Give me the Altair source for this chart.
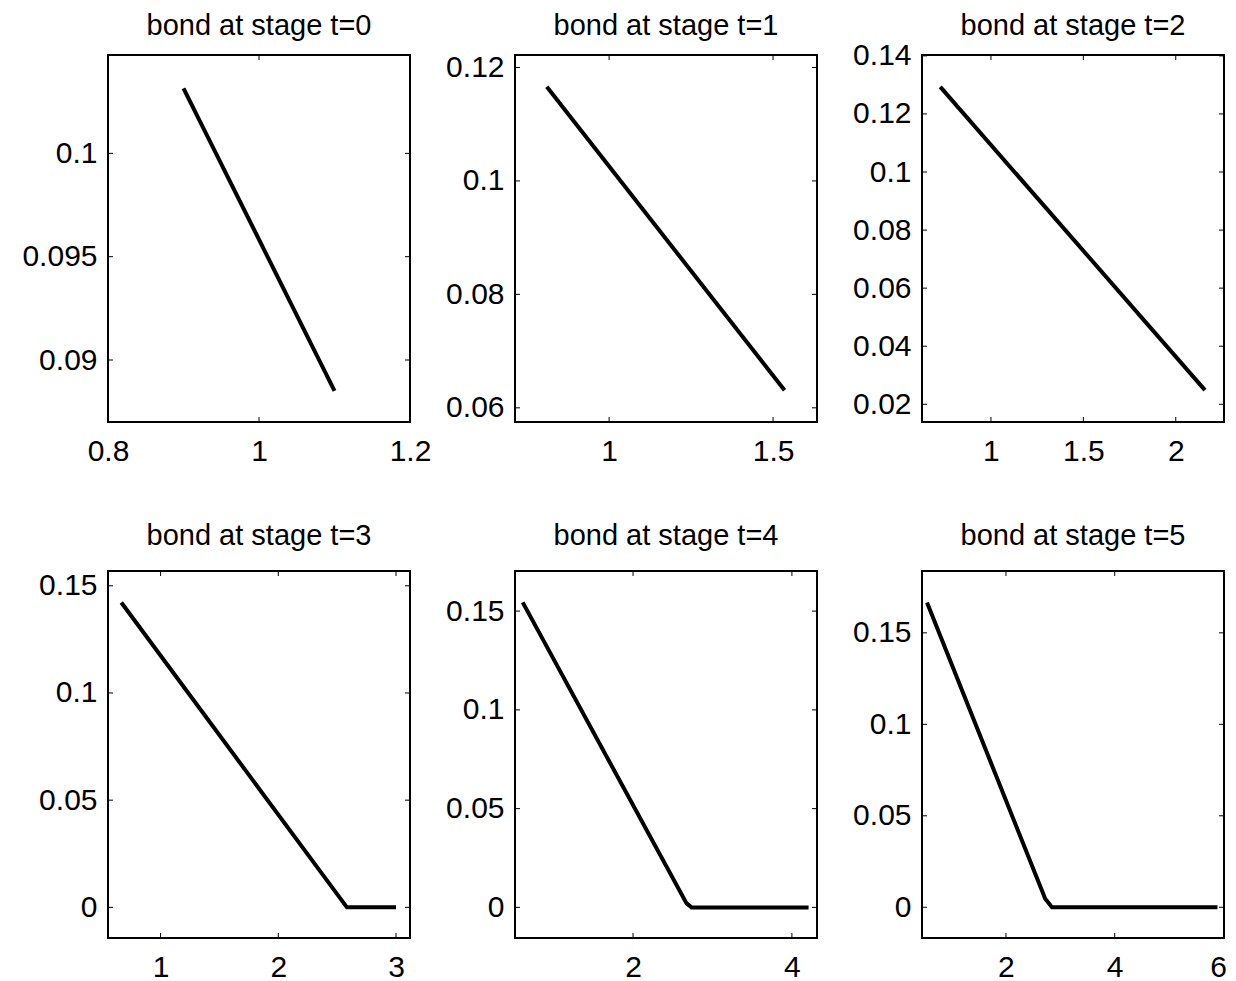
import altair as alt
import pandas as pd

# ---- data ----
titles = ["bond at stage t=0", "bond at stage t=1", "bond at stage t=2",
          "bond at stage t=3", "bond at stage t=4", "bond at stage t=5"]

x0 = [0.9, 1.1]
y0 = [0.10315, 0.08851]
x1 = [0.81, 1.535]
y1 = [0.1166, 0.0631]
x2 = [0.726, 2.158]
y2 = [0.1293, 0.0249]
x3 = [0.666, 2.583, 3.0]
y3 = [0.1422, 0.0, 0.0]
x4 = [0.611, 2.674, 2.737, 4.21]
y4 = [0.1544, 0.002, 0.0, 0.0]
x5 = [0.548, 2.722, 2.846, 5.89]
y5 = [0.1666, 0.0046, 0.0, 0.0]

xs = [x0, x1, x2, x3, x4, x5]
ys = [y0, y1, y2, y3, y4, y5]

x_domains = [[0.8, 1.2], [0.713, 1.634], [0.627, 2.261],
             [0.553, 3.119], [0.514, 4.316], [0.456, 6.01]]
y_domains = [[0.0870, 0.10476], [0.0575, 0.1222], [0.0139, 0.1403],
             [-0.0143, 0.1569], [-0.0155, 0.1703], [-0.0168, 0.1838]]

x_ticks = [[0.8, 1, 1.2], [1, 1.5], [1, 1.5, 2], [1, 2, 3], [2, 4], [2, 4, 6]]
y_ticks = [[0.09, 0.095, 0.1], [0.06, 0.08, 0.1, 0.12],
           [0.02, 0.04, 0.06, 0.08, 0.1, 0.12, 0.14],
           [0, 0.05, 0.1, 0.15], [0, 0.05, 0.1, 0.15], [0, 0.05, 0.1, 0.15]]

W, H = 302, 367
FONT = "Liberation Sans"
FS = 30
TFS = 29
TL = 5  # inward tick length


def panel(i):
    df = pd.DataFrame({"x": xs[i], "y": ys[i]})
    xsc = alt.Scale(domain=x_domains[i], nice=False, zero=False)
    ysc = alt.Scale(domain=y_domains[i], nice=False, zero=False)
    flush = dict(labelFlush=5, labelFlushOffset=3) if i == 5 else dict(labelFlush=False)
    xax = alt.Axis(values=x_ticks[i], format="~g", title=None, grid=False,
                   domain=False, ticks=False, tickSize=0, labelPadding=14,
                   labelFont=FONT, labelFontSize=FS, labelColor="black",
                   labelOverlap=False, **flush)
    yax = alt.Axis(values=y_ticks[i], format="~g", title=None, grid=False,
                   domain=False, ticks=False, tickSize=0, labelPadding=11,
                   labelFont=FONT, labelFontSize=FS, labelColor="black",
                   labelOverlap=False, labelFlush=False)
    line = alt.Chart(df).mark_line(color="black", strokeWidth=4, clip=True).encode(
        x=alt.X("x:Q", scale=xsc, axis=xax, title=None),
        y=alt.Y("y:Q", scale=ysc, axis=yax, title=None),
    )
    ydf = pd.DataFrame({"y": y_ticks[i]})
    xdf = pd.DataFrame({"x": x_ticks[i]})
    yl = alt.Chart(ydf).mark_rule(color="black", strokeWidth=1).encode(
        y=alt.Y("y:Q", scale=ysc, axis=yax, title=None), x=alt.value(0), x2=alt.value(TL))
    yr = alt.Chart(ydf).mark_rule(color="black", strokeWidth=1).encode(
        y=alt.Y("y:Q", scale=ysc, axis=yax, title=None), x=alt.value(W - TL), x2=alt.value(W))
    xb = alt.Chart(xdf).mark_rule(color="black", strokeWidth=1).encode(
        x=alt.X("x:Q", scale=xsc, axis=xax, title=None), y=alt.value(H - TL), y2=alt.value(H))
    xt = alt.Chart(xdf).mark_rule(color="black", strokeWidth=1).encode(
        x=alt.X("x:Q", scale=xsc, axis=xax, title=None), y=alt.value(0), y2=alt.value(TL))
    ty = -20 if i < 3 else -26
    ttl = alt.Chart(pd.DataFrame({"t": [titles[i]]})).mark_text(
        font=FONT, fontSize=TFS, color="black", align="center", baseline="alphabetic"
    ).encode(text="t:N", x=alt.value(W / 2), y=alt.value(ty))
    return alt.layer(line, yl, yr, xb, xt, ttl).properties(width=W, height=H)


chart = alt.concat(*[panel(i) for i in range(6)], columns=3,
                   spacing={"row": 149, "column": 105}, bounds="flush").properties(
    autosize=alt.AutoSizeParams(type="none"),
    padding={"left": 100, "top": 47, "right": 1120, "bottom": 926},
    background="white",
).configure_view(stroke="black", strokeWidth=2)

chart.save("out.html", embed_options={"renderer": "svg", "actions": False})
